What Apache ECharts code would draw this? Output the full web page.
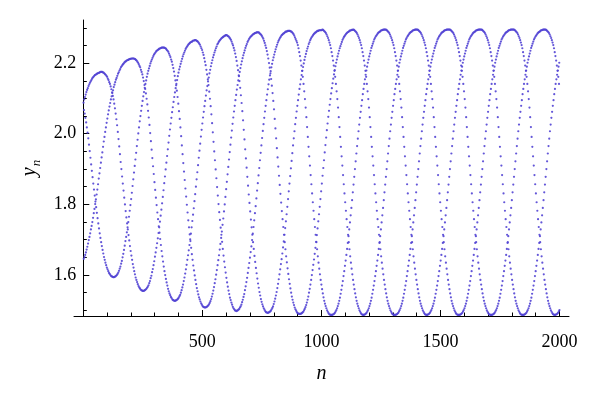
<!DOCTYPE html>
<html>
<head>
<meta charset="utf-8">
<script src="https://cdn.jsdelivr.net/npm/echarts@6/dist/echarts.min.js"></script>
<style>
html, body { margin: 0; padding: 0; background: #fff; }
#chart { width: 600px; height: 396px; }
</style>
</head>
<body>
<div id="chart"></div>
<script>
// y_n. The orbit visits three branches in turn,
// so the values are kept per branch: yA is n = 1,4,7..., yB is n = 2,5,8..., yC is n = 3,6,9...
var firstN = [1, 2, 3];
var stepN = 3;

var yA = [
	// n = 1..76
	2.088,2.097,2.104,2.111,2.118,2.124,2.129,2.135,2.140,2.144,
	2.148,2.152,2.156,2.159,2.161,2.164,2.166,2.167,2.169,2.170,
	2.171,2.172,2.173,2.174,2.175,2.175,
	// n = 79..250
	2.175,2.174,2.173,2.171,2.169,2.167,2.164,2.161,2.156,2.152,
	2.146,2.141,2.134,2.126,2.117,2.107,2.097,2.085,2.072,2.057,
	2.041,2.024,2.005,1.985,1.964,1.942,1.920,1.900,1.879,1.859,
	1.839,1.819,1.800,1.781,1.763,1.746,1.729,1.713,1.698,1.682,
	1.668,1.655,1.643,1.631,1.621,1.611,1.602,1.593,1.586,1.580,
	1.574,1.569,1.565,1.562,1.559,1.557,1.556,1.555,
	// n = 253..469
	1.555,1.556,1.557,1.559,1.561,1.564,1.567,1.571,1.577,1.583,
	1.591,1.598,1.608,1.617,1.628,1.639,1.652,1.664,1.677,1.690,
	1.704,1.719,1.735,1.751,1.768,1.785,1.803,1.821,1.840,1.860,
	1.879,1.899,1.918,1.937,1.956,1.975,1.994,2.012,2.029,2.045,
	2.061,2.075,2.090,2.104,2.117,2.129,2.141,2.152,2.163,2.173,
	2.182,2.190,2.198,2.205,2.212,2.219,2.225,2.230,2.235,2.240,
	2.244,2.247,2.250,2.253,2.255,2.257,2.259,2.260,2.261,2.263,
	2.264,2.264,2.265,
	// n = 472..640
	2.265,2.264,2.262,2.261,2.258,2.255,2.252,2.247,2.242,2.237,
	2.230,2.223,2.214,2.204,2.194,2.181,2.168,2.154,2.138,2.119,
	2.099,2.078,2.055,2.030,2.004,1.977,1.950,1.925,1.899,1.874,
	1.849,1.825,1.801,1.778,1.756,1.734,1.714,1.694,1.674,1.655,
	1.638,1.622,1.607,1.592,1.579,1.567,1.556,1.546,1.536,1.529,
	1.522,1.516,1.510,1.506,1.503,1.500,1.499,
	// n = 643..865
	1.498,1.499,1.500,1.502,1.504,1.508,1.511,1.516,1.523,1.530,
	1.538,1.546,1.557,1.568,1.580,1.592,1.606,1.620,1.634,1.649,
	1.665,1.681,1.699,1.717,1.736,1.755,1.775,1.795,1.817,1.839,
	1.860,1.882,1.903,1.925,1.946,1.967,1.988,2.008,2.027,2.045,
	2.063,2.079,2.095,2.111,2.126,2.140,2.153,2.165,2.177,2.188,
	2.198,2.208,2.216,2.224,2.232,2.239,2.246,2.252,2.258,2.263,
	2.267,2.271,2.274,2.278,2.280,2.282,2.284,2.285,2.287,2.289,
	2.289,2.290,2.291,2.291,2.291,
	// n = 868..1042
	2.291,2.290,2.289,2.287,2.285,2.282,2.278,2.273,2.268,2.263,
	2.258,2.251,2.242,2.231,2.220,2.207,2.193,2.178,2.161,2.141,
	2.120,2.098,2.074,2.047,2.019,1.991,1.963,1.936,1.910,1.883,
	1.857,1.831,1.806,1.782,1.758,1.736,1.714,1.693,1.673,1.653,
	1.635,1.618,1.602,1.586,1.573,1.560,1.548,1.537,1.527,1.519,
	1.512,1.506,1.500,1.496,1.492,1.489,1.488,1.487,1.487,
	// n = 1045..1267
	1.487,1.488,1.489,1.491,1.493,1.497,1.501,1.506,1.512,1.519,
	1.527,1.536,1.547,1.558,1.570,1.583,1.597,1.611,1.626,1.641,
	1.657,1.674,1.691,1.710,1.729,1.749,1.769,1.790,1.812,1.834,
	1.856,1.878,1.900,1.922,1.944,1.965,1.986,2.007,2.026,2.045,
	2.062,2.079,2.095,2.112,2.127,2.141,2.154,2.167,2.179,2.190,
	2.201,2.210,2.219,2.227,2.235,2.243,2.249,2.255,2.261,2.267,
	2.271,2.275,2.278,2.281,2.284,2.286,2.288,2.289,2.291,2.293,
	2.293,2.294,2.295,2.295,2.295,
	// n = 1270..1441
	2.295,2.294,2.292,2.290,2.288,2.285,2.281,2.276,2.271,2.265,
	2.258,2.251,2.242,2.231,2.220,2.207,2.193,2.178,2.161,2.141,
	2.120,2.098,2.074,2.047,2.019,1.991,1.963,1.936,1.910,1.883,
	1.857,1.831,1.806,1.782,1.758,1.736,1.714,1.693,1.673,1.653,
	1.635,1.618,1.602,1.586,1.573,1.560,1.548,1.537,1.527,1.519,
	1.512,1.506,1.500,1.496,1.492,1.489,1.488,1.487,
	// n = 1444..1669
	1.487,1.488,1.489,1.491,1.493,1.497,1.501,1.506,1.512,1.519,
	1.527,1.536,1.547,1.558,1.570,1.583,1.597,1.611,1.626,1.641,
	1.657,1.674,1.691,1.710,1.729,1.749,1.769,1.790,1.812,1.834,
	1.856,1.878,1.900,1.922,1.944,1.965,1.986,2.007,2.026,2.045,
	2.062,2.079,2.095,2.112,2.127,2.141,2.154,2.167,2.179,2.190,
	2.201,2.210,2.219,2.227,2.235,2.243,2.249,2.255,2.261,2.267,
	2.271,2.275,2.278,2.281,2.284,2.286,2.288,2.289,2.291,2.293,
	2.293,2.294,2.295,2.295,2.295,2.295,
	// n = 1672..1846
	2.295,2.294,2.292,2.290,2.288,2.285,2.281,2.276,2.271,2.265,
	2.258,2.251,2.242,2.231,2.220,2.207,2.193,2.178,2.161,2.141,
	2.120,2.098,2.074,2.047,2.019,1.991,1.963,1.936,1.910,1.883,
	1.857,1.831,1.806,1.782,1.758,1.736,1.714,1.693,1.673,1.653,
	1.635,1.618,1.602,1.586,1.573,1.560,1.548,1.537,1.527,1.519,
	1.512,1.506,1.500,1.496,1.492,1.489,1.488,1.487,1.487,
	// n = 1849..1999
	1.487,1.488,1.489,1.491,1.493,1.497,1.501,1.506,1.512,1.519,
	1.527,1.536,1.547,1.558,1.570,1.583,1.597,1.611,1.626,1.641,
	1.657,1.674,1.691,1.710,1.729,1.749,1.769,1.790,1.812,1.834,
	1.856,1.878,1.900,1.922,1.944,1.965,1.986,2.007,2.026,2.045,
	2.062,2.079,2.095,2.112,2.127,2.141,2.154,2.167,2.179,2.190,
	2.201
];

var yB = [
	// n = 2..209
	1.646,1.651,1.657,1.664,1.672,1.680,1.689,1.699,1.708,1.718,
	1.729,1.739,1.750,1.762,1.775,1.787,1.801,1.814,1.828,1.842,
	1.857,1.873,1.888,1.903,1.918,1.933,1.947,1.963,1.978,1.991,
	2.005,2.018,2.031,2.043,2.055,2.066,2.077,2.087,2.097,2.106,
	2.115,2.123,2.132,2.139,2.146,2.153,2.158,2.164,2.170,2.174,
	2.179,2.183,2.188,2.191,2.194,2.197,2.199,2.202,2.204,2.205,
	2.207,2.208,2.209,2.210,2.211,2.212,2.212,2.213,2.213,2.213,
	// n = 212..383
	2.213,2.212,2.211,2.209,2.207,2.204,2.201,2.197,2.192,2.188,
	2.181,2.175,2.168,2.159,2.149,2.138,2.127,2.114,2.099,2.083,
	2.065,2.046,2.025,2.002,1.979,1.955,1.931,1.908,1.886,1.863,
	1.841,1.819,1.798,1.777,1.758,1.738,1.720,1.702,1.685,1.668,
	1.653,1.638,1.624,1.611,1.600,1.589,1.579,1.570,1.561,1.554,
	1.548,1.543,1.538,1.535,1.531,1.529,1.528,1.527,
	// n = 386..599
	1.527,1.528,1.529,1.531,1.533,1.536,1.540,1.544,1.550,1.557,
	1.565,1.573,1.583,1.593,1.604,1.616,1.629,1.643,1.656,1.670,
	1.685,1.701,1.717,1.735,1.753,1.771,1.789,1.809,1.829,1.850,
	1.871,1.891,1.911,1.932,1.952,1.972,1.992,2.011,2.029,2.046,
	2.062,2.078,2.093,2.108,2.123,2.135,2.148,2.159,2.171,2.181,
	2.191,2.200,2.208,2.216,2.223,2.230,2.236,2.242,2.247,2.253,
	2.256,2.260,2.263,2.266,2.268,2.271,2.272,2.274,2.275,2.277,
	2.278,2.279,
	// n = 602..773
	2.279,2.278,2.276,2.275,2.272,2.269,2.266,2.261,2.255,2.250,
	2.243,2.236,2.227,2.217,2.206,2.193,2.180,2.165,2.149,2.130,
	2.109,2.087,2.064,2.038,2.011,1.984,1.956,1.930,1.904,1.878,
	1.853,1.828,1.804,1.780,1.757,1.735,1.714,1.693,1.674,1.654,
	1.637,1.620,1.605,1.590,1.576,1.564,1.552,1.542,1.532,1.524,
	1.517,1.511,1.506,1.502,1.498,1.495,1.494,1.493,
	// n = 776..1001
	1.493,1.494,1.495,1.497,1.499,1.503,1.507,1.511,1.518,1.525,
	1.533,1.542,1.552,1.563,1.575,1.588,1.602,1.616,1.631,1.645,
	1.661,1.678,1.695,1.714,1.733,1.752,1.772,1.793,1.815,1.837,
	1.859,1.880,1.902,1.923,1.945,1.967,1.987,2.007,2.027,2.045,
	2.063,2.079,2.095,2.111,2.127,2.140,2.154,2.166,2.178,2.189,
	2.199,2.209,2.218,2.226,2.234,2.241,2.247,2.254,2.259,2.265,
	2.269,2.273,2.276,2.279,2.282,2.284,2.286,2.287,2.289,2.291,
	2.291,2.292,2.293,2.293,2.293,2.293,
	// n = 1004..1175
	2.295,2.294,2.292,2.290,2.288,2.285,2.281,2.276,2.271,2.265,
	2.258,2.251,2.242,2.231,2.220,2.207,2.193,2.178,2.161,2.141,
	2.120,2.098,2.074,2.047,2.019,1.991,1.963,1.936,1.910,1.883,
	1.857,1.831,1.806,1.782,1.758,1.736,1.714,1.693,1.673,1.653,
	1.635,1.618,1.602,1.586,1.573,1.560,1.548,1.537,1.527,1.519,
	1.512,1.506,1.500,1.496,1.492,1.489,1.488,1.487,
	// n = 1178..1400
	1.487,1.488,1.489,1.491,1.493,1.497,1.501,1.506,1.512,1.519,
	1.527,1.536,1.547,1.558,1.570,1.583,1.597,1.611,1.626,1.641,
	1.657,1.674,1.691,1.710,1.729,1.749,1.769,1.790,1.812,1.834,
	1.856,1.878,1.900,1.922,1.944,1.965,1.986,2.007,2.026,2.045,
	2.062,2.079,2.095,2.112,2.127,2.141,2.154,2.167,2.179,2.190,
	2.201,2.210,2.219,2.227,2.235,2.243,2.249,2.255,2.261,2.267,
	2.271,2.275,2.278,2.281,2.284,2.286,2.288,2.289,2.291,2.293,
	2.293,2.294,2.295,2.295,2.295,
	// n = 1403..1577
	2.295,2.294,2.292,2.290,2.288,2.285,2.281,2.276,2.271,2.265,
	2.258,2.251,2.242,2.231,2.220,2.207,2.193,2.178,2.161,2.141,
	2.120,2.098,2.074,2.047,2.019,1.991,1.963,1.936,1.910,1.883,
	1.857,1.831,1.806,1.782,1.758,1.736,1.714,1.693,1.673,1.653,
	1.635,1.618,1.602,1.586,1.573,1.560,1.548,1.537,1.527,1.519,
	1.512,1.506,1.500,1.496,1.492,1.489,1.488,1.487,1.487,
	// n = 1580..1805
	1.487,1.488,1.489,1.491,1.493,1.497,1.501,1.506,1.512,1.519,
	1.527,1.536,1.547,1.558,1.570,1.583,1.597,1.611,1.626,1.641,
	1.657,1.674,1.691,1.710,1.729,1.749,1.769,1.790,1.812,1.834,
	1.856,1.878,1.900,1.922,1.944,1.965,1.986,2.007,2.026,2.045,
	2.062,2.079,2.095,2.112,2.127,2.141,2.154,2.167,2.179,2.190,
	2.201,2.210,2.219,2.227,2.235,2.243,2.249,2.255,2.261,2.267,
	2.271,2.275,2.278,2.281,2.284,2.286,2.288,2.289,2.291,2.293,
	2.293,2.294,2.295,2.295,2.295,2.295,
	// n = 1808..1979
	2.295,2.294,2.292,2.290,2.288,2.285,2.281,2.276,2.271,2.265,
	2.258,2.251,2.242,2.231,2.220,2.207,2.193,2.178,2.161,2.141,
	2.120,2.098,2.074,2.047,2.019,1.991,1.963,1.936,1.910,1.883,
	1.857,1.831,1.806,1.782,1.758,1.736,1.714,1.693,1.673,1.653,
	1.635,1.618,1.602,1.586,1.573,1.560,1.548,1.537,1.527,1.519,
	1.512,1.506,1.500,1.496,1.492,1.489,1.488,1.487,
	// n = 1982..2000
	1.487,1.488,1.489,1.491,1.493,1.497,1.501
];

var yC = [
	// n = 3..126
	2.067,2.057,2.045,2.032,2.018,2.003,1.987,1.969,1.951,1.932,
	1.913,1.895,1.877,1.859,1.842,1.825,1.808,1.792,1.776,1.761,
	1.746,1.732,1.718,1.705,1.693,1.682,1.671,1.661,1.651,1.643,
	1.635,1.628,1.621,1.616,1.611,1.606,1.603,1.600,1.597,1.596,
	1.595,1.594,
	// n = 129..336
	1.594,1.595,1.596,1.598,1.600,1.603,1.607,1.612,1.618,1.624,
	1.632,1.640,1.650,1.660,1.671,1.683,1.696,1.708,1.721,1.735,
	1.750,1.765,1.782,1.798,1.815,1.833,1.852,1.871,1.890,1.909,
	1.927,1.946,1.965,1.983,2.001,2.018,2.035,2.050,2.065,2.079,
	2.093,2.106,2.118,2.130,2.141,2.151,2.161,2.170,2.178,2.185,
	2.192,2.199,2.205,2.210,2.215,2.220,2.224,2.227,2.230,2.233,
	2.235,2.237,2.238,2.240,2.241,2.242,2.243,2.244,2.244,2.244,
	// n = 339..510
	2.244,2.243,2.242,2.240,2.237,2.235,2.232,2.227,2.222,2.217,
	2.210,2.204,2.195,2.186,2.176,2.164,2.151,2.137,2.122,2.104,
	2.085,2.064,2.042,2.018,1.993,1.967,1.942,1.917,1.893,1.869,
	1.845,1.822,1.799,1.777,1.755,1.735,1.715,1.696,1.677,1.659,
	1.643,1.627,1.613,1.599,1.586,1.574,1.563,1.554,1.545,1.537,
	1.531,1.525,1.520,1.516,1.512,1.510,1.509,1.508,
	// n = 513..732
	1.508,1.509,1.510,1.512,1.514,1.517,1.521,1.526,1.532,1.539,
	1.547,1.556,1.566,1.577,1.588,1.601,1.614,1.628,1.642,1.656,
	1.672,1.688,1.705,1.723,1.742,1.760,1.780,1.800,1.821,1.843,
	1.864,1.885,1.906,1.927,1.948,1.969,1.989,2.009,2.028,2.046,
	2.063,2.079,2.095,2.110,2.125,2.138,2.151,2.163,2.175,2.186,
	2.196,2.205,2.214,2.222,2.229,2.236,2.243,2.249,2.254,2.260,
	2.264,2.268,2.271,2.274,2.276,2.278,2.280,2.282,2.283,2.285,
	2.285,2.286,2.287,2.287,
	// n = 735..909
	2.287,2.286,2.284,2.282,2.280,2.277,2.273,2.269,2.263,2.257,
	2.250,2.243,2.234,2.224,2.213,2.200,2.187,2.171,2.155,2.136,
	2.115,2.093,2.069,2.042,2.015,1.987,1.959,1.933,1.907,1.881,
	1.855,1.830,1.805,1.781,1.758,1.736,1.714,1.693,1.673,1.653,
	1.636,1.619,1.603,1.588,1.575,1.562,1.550,1.539,1.530,1.522,
	1.515,1.508,1.503,1.499,1.495,1.492,1.491,1.490,1.490,
	// n = 912..1131
	1.490,1.491,1.492,1.494,1.496,1.500,1.504,1.509,1.515,1.522,
	1.530,1.539,1.550,1.561,1.573,1.586,1.600,1.614,1.629,1.644,
	1.660,1.677,1.694,1.713,1.732,1.752,1.772,1.793,1.815,1.837,
	1.859,1.881,1.903,1.925,1.947,1.968,1.989,2.010,2.029,2.048,
	2.065,2.082,2.098,2.114,2.129,2.143,2.156,2.168,2.180,2.191,
	2.201,2.210,2.219,2.227,2.235,2.242,2.248,2.254,2.260,2.266,
	2.270,2.274,2.277,2.280,2.283,2.285,2.287,2.288,2.290,2.292,
	2.292,2.293,2.294,2.294,
	// n = 1134..1308
	2.295,2.294,2.292,2.290,2.288,2.285,2.281,2.276,2.271,2.265,
	2.258,2.251,2.242,2.231,2.220,2.207,2.193,2.178,2.161,2.141,
	2.120,2.098,2.074,2.047,2.019,1.991,1.963,1.936,1.910,1.883,
	1.857,1.831,1.806,1.782,1.758,1.736,1.714,1.693,1.673,1.653,
	1.635,1.618,1.602,1.586,1.573,1.560,1.548,1.537,1.527,1.519,
	1.512,1.506,1.500,1.496,1.492,1.489,1.488,1.487,1.487,
	// n = 1311..1536
	1.487,1.488,1.489,1.491,1.493,1.497,1.501,1.506,1.512,1.519,
	1.527,1.536,1.547,1.558,1.570,1.583,1.597,1.611,1.626,1.641,
	1.657,1.674,1.691,1.710,1.729,1.749,1.769,1.790,1.812,1.834,
	1.856,1.878,1.900,1.922,1.944,1.965,1.986,2.007,2.026,2.045,
	2.062,2.079,2.095,2.112,2.127,2.141,2.154,2.167,2.179,2.190,
	2.201,2.210,2.219,2.227,2.235,2.243,2.249,2.255,2.261,2.267,
	2.271,2.275,2.278,2.281,2.284,2.286,2.288,2.289,2.291,2.293,
	2.293,2.294,2.295,2.295,2.295,2.295,
	// n = 1539..1713
	2.295,2.294,2.292,2.290,2.288,2.285,2.281,2.276,2.271,2.265,
	2.258,2.251,2.242,2.231,2.220,2.207,2.193,2.178,2.161,2.141,
	2.120,2.098,2.074,2.047,2.019,1.991,1.963,1.936,1.910,1.883,
	1.857,1.831,1.806,1.782,1.758,1.736,1.714,1.693,1.673,1.653,
	1.635,1.618,1.602,1.586,1.573,1.560,1.548,1.537,1.527,1.519,
	1.512,1.506,1.500,1.496,1.492,1.489,1.488,1.487,1.487,
	// n = 1716..1938
	1.487,1.488,1.489,1.491,1.493,1.497,1.501,1.506,1.512,1.519,
	1.527,1.536,1.547,1.558,1.570,1.583,1.597,1.611,1.626,1.641,
	1.657,1.674,1.691,1.710,1.729,1.749,1.769,1.790,1.812,1.834,
	1.856,1.878,1.900,1.922,1.944,1.965,1.986,2.007,2.026,2.045,
	2.062,2.079,2.095,2.112,2.127,2.141,2.154,2.167,2.179,2.190,
	2.201,2.210,2.219,2.227,2.235,2.243,2.249,2.255,2.261,2.267,
	2.271,2.275,2.278,2.281,2.284,2.286,2.288,2.289,2.291,2.293,
	2.293,2.294,2.295,2.295,2.295,
	// n = 1941..1998
	2.295,2.294,2.292,2.290,2.288,2.285,2.281,2.276,2.271,2.265,
	2.258,2.251,2.242,2.231,2.220,2.207,2.193,2.178,2.161,2.141
];

var xTicks = [500, 1000, 1500, 2000];
var yTicks = [1.6, 1.8, 2.0, 2.2];

var chart = echarts.init(document.getElementById('chart'));

var points = [];
[yA, yB, yC].forEach(function (ys, k) {
	for (var i = 0; i < ys.length; i++) {
		points.push([firstN[k] + stepN * i, ys[i]]);
	}
});

var serif = 'Liberation Serif';

var option = {
	animation: false,
	backgroundColor: '#ffffff',
	grid: { left: 74, right: 31, top: 20, bottom: 80 },
	xAxis: {
		type: 'value',
		min: -39,
		max: 2040,
		name: 'n',
		nameLocation: 'middle',
		nameGap: 48,
		nameTextStyle: { fontFamily: serif, fontStyle: 'italic', fontSize: 20, color: '#000' },
		axisLine: { onZero: false, lineStyle: { color: '#000', width: 1 } },
		axisTick: { inside: true, length: 6, customValues: xTicks, lineStyle: { color: '#000' } },
		minorTick: { show: true, splitNumber: 5, length: 3.5, lineStyle: { color: '#000' } },
		axisLabel: {
			customValues: xTicks, margin: 17, fontFamily: serif, fontSize: 18, color: '#000',
			formatter: function (v) { return String(v); }
		},
		splitLine: { show: false },
		minorSplitLine: { show: false }
	},
	yAxis: {
		type: 'value',
		min: 1.484,
		max: 2.322,
		// the axis sits at n = 0, a little inside the plot's left edge
		offset: -9.3,
		name: '{v|y}{s|n}',
		nameLocation: 'middle',
		nameRotate: 90,
		nameGap: 34,
		nameTextStyle: {
			color: '#000',
			rich: {
				v: { fontFamily: serif, fontStyle: 'italic', fontSize: 20, lineHeight: 20, color: '#000' },
				s: { fontFamily: serif, fontStyle: 'italic', fontSize: 13, lineHeight: 13, padding: [14, 0, 0, 1], color: '#000' }
			}
		},
		axisLine: { onZero: false, lineStyle: { color: '#000', width: 1 } },
		axisTick: { inside: true, length: 6, customValues: yTicks, lineStyle: { color: '#000' } },
		minorTick: { show: true, splitNumber: 4, length: 3.5, lineStyle: { color: '#000' } },
		axisLabel: {
			customValues: yTicks, margin: 7, fontFamily: serif, fontSize: 18, color: '#000',
			formatter: function (v) { return v.toFixed(1); }
		},
		splitLine: { show: false },
		minorSplitLine: { show: false }
	},
	series: [{
		type: 'scatter',
		data: points,
		symbol: 'circle',
		symbolSize: 2.2,
		itemStyle: { color: '#5244d4', opacity: 0.9 }
	}]
};

chart.setOption(option);
</script>
</body>
</html>
